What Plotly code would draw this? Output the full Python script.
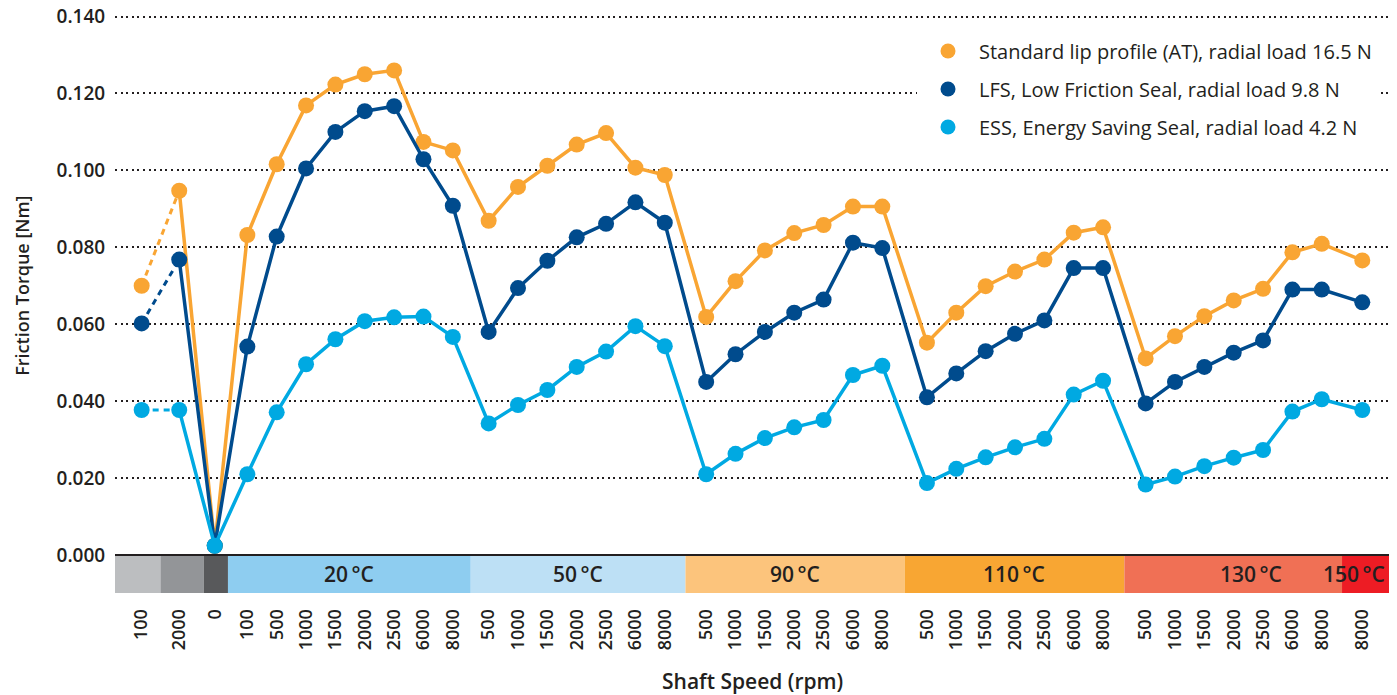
import plotly.graph_objects as go

# ---------------- data ----------------
band_labels = ["", "", "", "20\u2009°C", "50\u2009°C", "90\u2009°C", "110\u2009°C", "130\u2009°C", "150\u2009°C"]
group_speeds = [
    ["100"],
    ["2000"],
    ["0"],
    ["100", "500", "1000", "1500", "2000", "2500", "6000", "8000"],
    ["500", "1000", "1500", "2000", "2500", "6000", "8000"],
    ["500", "1000", "1500", "2000", "2500", "6000", "8000"],
    ["500", "1000", "1500", "2000", "2500", "6000", "8000"],
    ["500", "1000", "1500", "2000", "2500", "6000", "8000"],
    ["8000"],
]

standard_at = [0.0700, 0.0947, 0.0024, 0.0832, 0.1016, 0.1169, 0.1223, 0.1250, 0.1260, 0.1074, 0.1052,
               0.0869, 0.0957, 0.1012, 0.1067, 0.1097, 0.1007, 0.0988,
               0.0619, 0.0712, 0.0792, 0.0837, 0.0858, 0.0906, 0.0906,
               0.0552, 0.0630, 0.0699, 0.0737, 0.0768, 0.0838, 0.0852,
               0.0511, 0.0569, 0.0621, 0.0662, 0.0692, 0.0787, 0.0809, 0.0766]
lfs = [0.0602, 0.0768, 0.0024, 0.0542, 0.0828, 0.1005, 0.1100, 0.1154, 0.1167, 0.1029, 0.0908,
       0.0580, 0.0694, 0.0765, 0.0826, 0.0861, 0.0917, 0.0864,
       0.0450, 0.0522, 0.0580, 0.0630, 0.0664, 0.0812, 0.0798,
       0.0410, 0.0472, 0.0530, 0.0575, 0.0610, 0.0746, 0.0746,
       0.0394, 0.0450, 0.0489, 0.0526, 0.0558, 0.0690, 0.0690, 0.0657]
ess = [0.0377, 0.0377, 0.0024, 0.0210, 0.0371, 0.0496, 0.0561, 0.0608, 0.0618, 0.0620, 0.0567,
       0.0342, 0.0390, 0.0429, 0.0489, 0.0529, 0.0595, 0.0543,
       0.0210, 0.0263, 0.0304, 0.0332, 0.0351, 0.0468, 0.0492,
       0.0187, 0.0224, 0.0254, 0.0280, 0.0302, 0.0417, 0.0453,
       0.0183, 0.0204, 0.0231, 0.0253, 0.0273, 0.0373, 0.0405, 0.0377]

series_names = ["Standard lip profile (AT), radial load 16.5 N",
                "LFS, Low Friction Seal, radial load 9.8 N",
                "ESS, Energy Saving Seal, radial load 4.2 N"]
y_ticks = [0.0, 0.02, 0.04, 0.06, 0.08, 0.10, 0.12, 0.14]

# ---------------- layout / style ----------------
band_colors = ["#bcbec0", "#939598", "#58595b", "#8ecdf0", "#bde0f5", "#fcc47c", "#f8a633", "#f07055", "#ed1c24"]
series_colors = ["#f9a533", "#004b8d", "#00a9e2"]
group_gaps = [0, 1.28, 1.21, 1.11, 1.22, 1.41, 1.52, 1.45, 1.38]   # spacing before each group (slot units)
FONT = "Open Sans"
TXT = "#231f20"

W, H = 1397, 695
PLOT_L, PLOT_R, PLOT_T, PLOT_B = 115, 1389, 10, 593
PLOT_W = PLOT_R - PLOT_L
PLOT_H = PLOT_B - PLOT_T

# x positions of the category slots
xpos, tick_text, group_bounds = [], [], []
cur = None
for gi, speeds in enumerate(group_speeds):
    start = len(xpos)
    for si, s in enumerate(speeds):
        if cur is None:
            cur = 0.0
        elif si == 0:
            cur += group_gaps[gi]
        else:
            cur += 1.0
        xpos.append(cur)
        tick_text.append(s)
    group_bounds.append((start, len(xpos) - 1))

x_min = xpos[0] - 0.908
x_max = xpos[-1] + 0.91
y_min, y_max = -0.00988, 0.1417

# band edges: midpoints between groups, narrow dark band for the "0" slot
edges = []
for gi, (a, b) in enumerate(group_bounds):
    left = x_min if gi == 0 else (xpos[group_bounds[gi - 1][1]] + xpos[a]) / 2
    right = x_max if gi == len(group_bounds) - 1 else (xpos[b] + xpos[group_bounds[gi + 1][0]]) / 2
    edges.append([left, right])
edges[2] = [xpos[group_bounds[2][0]] - 0.37, xpos[group_bounds[2][0]] + 0.45]
edges[1][1] = edges[2][0]
edges[3][0] = edges[2][1]

fig = go.Figure()

shapes = []
for (x0, x1), col in zip(edges, band_colors):
    shapes.append(dict(type="rect", xref="x", yref="y", x0=x0, x1=x1, y0=y_min, y1=0,
                       fillcolor=col, line=dict(width=0), layer="below"))

annotations = []
for gi, lab in enumerate(band_labels):
    if not lab:
        continue
    x0, x1 = edges[gi]
    cx = (x0 + x1) / 2
    xanchor = "center"
    if lab.startswith("130"):
        cx = 37.8
    if lab.startswith("150"):
        cx = x1 - 0.08
        xanchor = "right"
    annotations.append(dict(x=cx, y=y_min / 2, xref="x", yref="y", text=lab, showarrow=False,
                            xanchor=xanchor, yanchor="middle",
                            font=dict(family=FONT, size=21, color=TXT, weight=600)))

# axis titles
annotations.append(dict(x=(22 - PLOT_L) / PLOT_W, y=0.07, xref="paper", yref="y",
                        xanchor="center", yanchor="middle",
                        text="Friction Torque [Nm]", textangle=-90, showarrow=False,
                        font=dict(family=FONT, size=18, color=TXT, weight=600)))
annotations.append(dict(x=0.5, y=(PLOT_B - 681) / PLOT_H, xref="paper", yref="paper",
                        xanchor="center", yanchor="middle",
                        text="Shaft Speed (rpm)", showarrow=False,
                        font=dict(family=FONT, size=21, color=TXT, weight=600)))

for vals, col, name in zip([standard_at, lfs, ess], series_colors, series_names):
    # dashed first segment
    fig.add_trace(go.Scatter(x=xpos[:2], y=vals[:2], mode="lines", showlegend=False,
                             line=dict(color=col, width=3, dash="6px,5px"), hoverinfo="skip"))
    fig.add_trace(go.Scatter(x=xpos[1:], y=vals[1:], mode="lines", showlegend=False,
                             line=dict(color=col, width=3.5), name=name))
    fig.add_trace(go.Scatter(x=xpos, y=vals, mode="markers", showlegend=False,
                             marker=dict(color=col, size=16), name=name))

for i, (col, name) in enumerate(zip(series_colors, series_names)):
    fig.add_trace(go.Scatter(x=[None], y=[None], mode="markers", name=name,
                             legendgroup=f"g{i}", marker=dict(color=col, size=15)))

fig.update_layout(
    width=W, height=H,
    margin=dict(l=PLOT_L, r=W - PLOT_R, t=PLOT_T, b=H - PLOT_B, autoexpand=False),
    plot_bgcolor="white", paper_bgcolor="white",
    shapes=shapes, annotations=annotations,
    showlegend=True,
    legend=dict(x=(917 - PLOT_L) / PLOT_W, y=0.963, xanchor="left", yanchor="top", bgcolor="white",
                font=dict(family=FONT, size=20, color=TXT, weight=500),
                tracegroupgap=9, itemwidth=52),
    font=dict(family=FONT, color=TXT),
)
fig.update_xaxes(range=[x_min, x_max], tickmode="array", tickvals=xpos, ticktext=tick_text,
                 tickangle=-90, showgrid=False, zeroline=False, showline=False,
                 ticks="outside", ticklen=8, tickcolor="rgba(0,0,0,0)", automargin=False,
                 tickfont=dict(family=FONT, size=18, color=TXT, weight=600))
fig.update_yaxes(range=[y_min, y_max], tickmode="array", tickvals=y_ticks, tickformat=".3f",
                 showgrid=True, gridcolor=TXT, gridwidth=2, griddash="2px,3.6px",
                 zeroline=True, zerolinecolor=TXT, zerolinewidth=2, showline=False,
                 ticks="outside", ticklen=5, tickcolor="rgba(0,0,0,0)",
                 ticklabeloverflow="allow", automargin=False,
                 tickfont=dict(family=FONT, size=19, color=TXT, weight=600))

# remove the default page margin so the figure sits at the window's top-left corner
fig.write_html("out.html", config={"displayModeBar": False},
               post_script="document.body.style.margin='0px';")
